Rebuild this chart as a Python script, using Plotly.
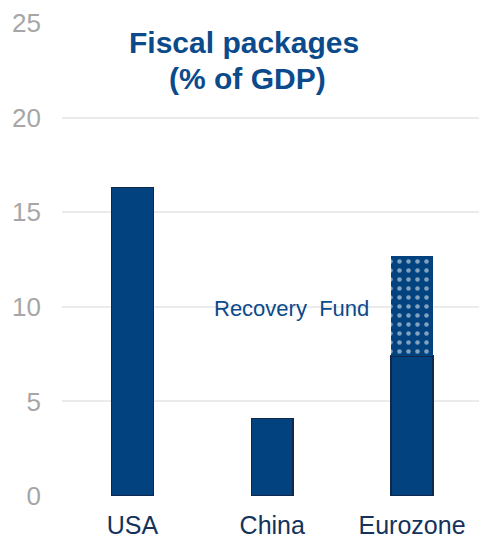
import plotly.graph_objects as go

categories = ["USA", "China", "Eurozone"]
base_values = [16.3, 4.1, 7.4]
recovery_cats = ["Eurozone"]
recovery_values = [5.3]
y_ticks = [0, 5, 10, 15, 20, 25]

NAVY = "#02437f"
EDGE = "#10294a"
TITLE = "#0b4a8b"

fig = go.Figure()
fig.add_trace(go.Bar(
    x=categories, y=base_values, width=0.3,
    marker=dict(color=NAVY, line=dict(color=EDGE, width=1.5)),
    showlegend=False,
))
fig.add_trace(go.Bar(
    x=recovery_cats, y=recovery_values, width=0.3,
    marker=dict(color=NAVY, line=dict(width=0),
                pattern=dict(shape=".", fgcolor="white", bgcolor=NAVY,
                             size=9, solidity=0.2, fillmode="overlay")),
    showlegend=False,
))

L, R, T, B = 62, 0, 23, 44
W, H = 479, 540
pw, ph = W - L - R, H - T - B

def px(xp):
    return (xp - L) / pw

def py(yp):
    return 1 - (yp - T) / ph

fig.update_layout(
    width=W, height=H,
    margin=dict(l=L, r=R, t=T, b=B),
    barmode="stack",
    plot_bgcolor="white", paper_bgcolor="white",
    font=dict(family="Liberation Sans, Arial, sans-serif"),
    xaxis=dict(showgrid=False, showline=False, ticks="",
               range=[-0.504, 2.479],
               tickfont=dict(size=25, color="#14325a"),
               ticklabelstandoff=12),
    yaxis=dict(range=[0, 25], tickvals=y_ticks, showgrid=True,
               gridcolor="#ebebeb", gridwidth=1.5, zeroline=False,
               showline=False, ticks="",
               tickfont=dict(size=26, color="#a6a6a6"),
               ticklabelstandoff=20),
)

fig.add_annotation(text="<b>Fiscal packages</b>", x=px(244), y=py(42), xref="paper", yref="paper",
                   xanchor="center", yanchor="middle", showarrow=False,
                   font=dict(size=30, color=TITLE))
fig.add_annotation(text="<b>(% of GDP)</b>", x=px(247), y=py(78), xref="paper", yref="paper",
                   xanchor="center", yanchor="middle", showarrow=False,
                   font=dict(size=30, color=TITLE))
fig.add_annotation(text="Recovery  Fund", x=px(291), y=py(308), xref="paper", yref="paper",
                   xanchor="center", yanchor="middle", showarrow=False,
                   font=dict(size=22, color=TITLE))

fig.write_html("out.html")
